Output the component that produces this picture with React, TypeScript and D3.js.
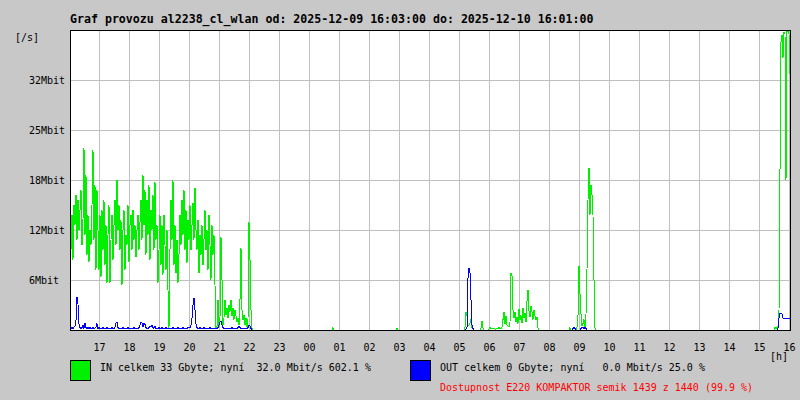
import * as d3 from "d3";
import React from "react";

const title = "Graf provozu al2238_cl_wlan od: 2025-12-09 16:03:00 do: 2025-12-10 16:01:00";
const rangeStart = "2025-12-09 16:03";
const rangeEnd = "2025-12-10 16:01";
const stepMinutes = 2;

const yMax = 37.5;
const yTickValues = [6.25, 12.5, 18.75, 25, 31.25];
const yTickLabels = ["6Mbit", "12Mbit", "18Mbit", "25Mbit", "32Mbit"];

// IN traffic [Mbit/s], one sample every 2 minutes
const inEveningStart = "2025-12-09 16:03";
const inEvening = [
  10.0, 14.4, 8.8, 15.6, 13.1, 16.9, 11.3, 16.3, 12.5, 15.0,
  17.5, 10.6, 13.8, 22.8, 11.9, 19.4, 9.4, 14.4, 8.5, 12.5,
  10.6, 15.6, 22.5, 11.3, 18.1, 7.5, 17.5, 12.5, 7.5, 14.4,
  6.6, 15.0, 10.0, 16.3, 8.1, 13.1, 5.9, 11.9, 15.6, 5.9,
  11.3, 14.4, 8.8, 13.1, 16.3, 10.6, 18.8, 12.5, 15.6, 10.0,
  13.8, 5.6, 12.5, 15.0, 7.5, 11.9, 10.6, 15.6, 8.5, 13.1,
  14.4, 10.0, 15.0, 11.3, 13.1, 9.1, 12.5, 14.4, 10.0, 13.5,
  16.3, 11.3, 19.4, 13.1, 17.5, 9.4, 16.3, 11.9, 18.1, 8.8,
  15.0, 12.5, 16.9, 10.0, 18.5, 11.3, 13.1, 5.9, 10.0, 14.4,
  8.1, 13.1, 6.9, 14.4, 10.6, 7.5, 12.5, 5.0, 0.3, 10.0,
  16.3, 11.3, 18.8, 8.1, 13.1, 7.1, 11.3, 5.9, 9.4, 14.4,
  10.6, 16.3, 11.9, 17.5, 10.0, 15.0, 8.4, 13.8, 11.3, 15.6,
  10.0, 13.1, 15.9, 11.3, 17.8, 12.5, 10.0, 13.8, 7.1, 11.9,
  9.4, 13.1, 8.1, 11.3, 15.0, 10.0, 12.5, 7.5, 14.4, 10.6,
  6.3, 13.1, 9.4, 11.9, 5.6, 0.3, 0.4, 3.8, 0.4, 1.5,
  11.6, 6.3, 0.6, 1.5, 3.8, 1.9, 2.8, 1.5, 3.1, 2.3,
  3.8, 1.8, 2.8, 1.3, 2.5, 1.8, 1.0, 1.5, 0.6, 3.8,
  10.3, 2.5, 1.3, 1.9, 0.6, 1.5, 0.4, 1.3, 13.5, 8.8,
  2.5, 0.3,
];
const inNight1Start = "2025-12-10 00:47";
const inNight1 = [0.3];
const inNight2Start = "2025-12-10 02:55";
const inNight2 = [0.2];
const inMorningStart = "2025-12-10 05:11";
const inMorning = [
  0.3, 2.3, 1.8, 0.5, 0.6, 0.9, 1.3, 0.3, 0.2, 0,
  0, 0, 0, 0, 0, 0, 0.2, 1.1, 0.3, 0,
  0, 0, 0, 0, 0.1, 0.3, 0.1, 0.2, 0.1, 0.2,
  0.1, 0.1, 0.2, 0.1, 0.3, 0.1, 0.2, 0.4, 1.3, 2.3,
  0.8, 1.8, 0.6, 0.5, 0.4, 1.0, 7.1, 6.8, 2.5, 1.5,
  2.3, 1.0, 1.6, 0.8, 2.6, 1.3, 1.8, 0.9, 2.8, 1.5,
  2.1, 1.0, 3.6, 5.0, 2.4, 1.6, 3.0, 2.2, 1.3, 2.5,
  1.7, 1.2, 1.6, 0.3, 0,
];
const inNineStart = "2025-12-10 08:41";
const inNine = [
  0.3, 0, 0, 0, 0, 0, 0, 0.3, 1.8, 8.0,
  4.5, 2.0, 0.5, 0.8, 1.3, 0.4, 2.0, 7.5, 16.3, 20.3,
  14.4, 18.1, 16.9, 14.4, 6.3, 0.3, 0,
];
const inEndStart = "2025-12-10 15:31";
const inEnd = [0.3, 0.2, 0.3, 0.5, 2.3, 20.0, 36.0, 36.9, 34.0, 37.3, 37.0, 18.8, 37.3, 37.5, 37.0, 32.0];

// OUT traffic [Mbit/s]
const outEveningStart = "2025-12-09 16:03";
const outEvening = [
  0.2, 0.3, 0.2, 0.4, 0.5, 1.2, 4.1, 3.2, 0.8, 0.3,
  0.2, 0.3, 0.6, 0.2, 0.9, 0.3, 0.2, 0.4, 0.2, 0.3,
  0.2, 0.2, 0.3, 0.2, 0.2, 0.4, 0.8, 0.2, 0.3, 0.2,
  0.2, 0.2, 0.3, 0.2, 0.2, 0.2, 0.3, 0.2, 0.2, 0.2,
  0.2, 0.3, 0.2, 0.2, 0.4, 0.9, 1.0, 0.3, 0.2, 0.2,
  0.2, 0.2, 0.3, 0.2, 0.2, 0.2, 0.2, 0.3, 0.2, 0.2,
  0.2, 0.2, 0.2, 0.3, 0.2, 0.2, 0.2, 0.2, 0.3, 0.6,
  1.0, 0.9, 0.4, 0.8, 0.7, 0.3, 0.2, 0.2, 0.3, 0.5,
  0.4, 0.6, 0.3, 0.2, 0.5, 0.2, 0.2, 0.2, 0.3, 0.2,
  0.2, 0.3, 0.2, 0.2, 0.2, 0.3, 0.2, 0.2, 0.2, 0.2,
  0.2, 0.2, 0.3, 0.2, 0.2, 0.2, 0.2, 0.3, 0.2, 0.2,
  0.2, 0.2, 0.3, 0.2, 0.2, 0.2, 0.2, 0.3, 0.4, 0.3,
  0.6, 1.5, 3.1, 4.0, 2.5, 0.8, 0.3, 0.2, 0.2, 0.3,
  0.2, 0.2, 0.2, 0.3, 0.2, 0.2, 0.2, 0.2, 0.2, 0.3,
  0.2, 0.2, 0.2, 0.2, 0.2, 0.2, 0.2, 0.3, 0.6, 1.0,
  1.1, 0.6, 0.3, 0.2, 0.2, 0.2, 0.2, 0.2, 0.2, 0.2,
  0.2, 0.3, 0.2, 0.2, 0.2, 0.2, 0.2, 0.3, 0.5, 0.3,
  0.2, 0.2, 0.2, 0.2, 0.2, 0.2, 0.2, 0.3, 0.6, 0.5,
  0.2, 0,
];
const outMorningStart = "2025-12-10 05:13";
const outMorning = [0.1, 0.3, 6.5, 7.8, 7.2, 3.8, 0.6, 0.2, 0];
const outNineStart = "2025-12-10 08:47";
const outNine = [0.2, 0.3, 0.2, 0, 0, 0, 0, 0, 0.2, 0.3, 0.3, 0.2, 0.3, 0.2, 0];
const outEndStart = "2025-12-10 15:37";
const outEnd = [0.2, 1.5, 2.1, 2.1, 2.0, 1.5, 1.5, 1.5, 1.5, 1.4, 1.5, 1.5, 1.5];

const inLegend = "IN celkem 33 Gbyte; nyní  32.0 Mbit/s 602.1 %";
const outLegend = "OUT celkem 0 Gbyte; nyní   0.0 Mbit/s 25.0 %";
const availability = "Dostupnost E220 KOMPAKTOR semik 1439 z 1440 (99.9 %)";

const parseTime = d3.timeParse("%Y-%m-%d %H:%M");
const t0 = parseTime(rangeStart) as Date;
const t1 = parseTime(rangeEnd) as Date;

interface Sample {
  date: Date;
  value: number;
}

function buildSeries(segments: [string, number[]][]): Sample[] {
  const n = Math.round((+t1 - +t0) / 60000 / stepMinutes) + 1;
  const vals: number[] = new Array(n).fill(0);
  for (const [start, arr] of segments) {
    const i0 = Math.round((+(parseTime(start) as Date) - +t0) / 60000 / stepMinutes);
    arr.forEach((v, k) => {
      if (i0 + k < n) vals[i0 + k] = v;
    });
  }
  return vals.map((v, i) => ({ date: d3.timeMinute.offset(t0, i * stepMinutes), value: v }));
}

// keep the runs of spaces of the original legend
const keepSpaces = (s: string) => s.replace(/ /g, "\u00a0");

const font = "'DejaVu Sans Mono', monospace";

export default function App() {
  const width = 800;
  const height = 400;
  const left = 70;
  const right = 790;
  const top = 30;
  const bottom = 330;

  const x = d3.scaleTime().domain([t0, t1]).range([left + 1, right]);
  const y = d3.scaleLinear().domain([0, yMax]).range([bottom, top]);

  const inData = buildSeries([
    [inEveningStart, inEvening],
    [inNight1Start, inNight1],
    [inNight2Start, inNight2],
    [inMorningStart, inMorning],
    [inNineStart, inNine],
    [inEndStart, inEnd],
  ]);
  const outData = buildSeries([
    [outEveningStart, outEvening],
    [outMorningStart, outMorning],
    [outNineStart, outNine],
    [outEndStart, outEnd],
  ]);

  const line = d3
    .line<Sample>()
    .x((d) => x(d.date))
    .y((d) => y(d.value));

  const hours = d3.timeHour.range(d3.timeHour.ceil(t0), d3.timeMinute.offset(t1, 1));
  const fmtHour = d3.timeFormat("%H");

  return (
    <svg
      width={width}
      height={height}
      style={{ position: "absolute", left: 0, top: 0, background: "#c8c8c8" }}
    >
      <rect x={0} y={0} width={width} height={height} fill="#c8c8c8" />
      <text x={left} y={23} fontFamily={font} fontWeight="bold" fontSize={11.6} fill="#000">
        {title}
      </text>
      <rect x={left} y={top} width={right - left} height={bottom - top} fill="#fff" />

      <g stroke="#c0c0c0" shapeRendering="crispEdges">
        {hours.map((h, i) => (
          <line key={i} x1={Math.floor(x(h))} x2={Math.floor(x(h))} y1={top} y2={bottom} />
        ))}
        {yTickValues.map((v, i) => (
          <line key={i} x1={left} x2={right} y1={y(v)} y2={y(v)} />
        ))}
      </g>

      <path d={line(inData) || ""} fill="none" stroke="#00f000" strokeWidth={1} shapeRendering="crispEdges" />
      <path d={line(outData) || ""} fill="none" stroke="#0000ff" strokeWidth={1} shapeRendering="crispEdges" />

      <rect
        x={left}
        y={top}
        width={right - left}
        height={bottom - top}
        fill="none"
        stroke="#000"
        shapeRendering="crispEdges"
      />

      <g fontFamily={font} fontSize={10} fill="#000">
        <text x={15} y={41}>[/s]</text>
        {yTickValues.map((v, i) => (
          <text key={i} x={29} y={y(v) + 4}>
            {yTickLabels[i]}
          </text>
        ))}
        {hours.map((h, i) => (
          <text key={i} x={x(h)} y={351} textAnchor="middle">
            {fmtHour(h)}
          </text>
        ))}
        <text x={770} y={360}>[h]</text>
      </g>

      <rect x={70.5} y={360.5} width={20} height={20} fill="#00f000" stroke="#000" />
      <rect x={410.5} y={360.5} width={20} height={20} fill="#0000ff" stroke="#000" />
      <g fontFamily={font} fontSize={10}>
        <text x={100} y={370.5} fill="#000">{keepSpaces(inLegend)}</text>
        <text x={440} y={370.5} fill="#000">{keepSpaces(outLegend)}</text>
        <text x={440} y={390.5} fill="#ff0000">{keepSpaces(availability)}</text>
      </g>
    </svg>
  );
}
